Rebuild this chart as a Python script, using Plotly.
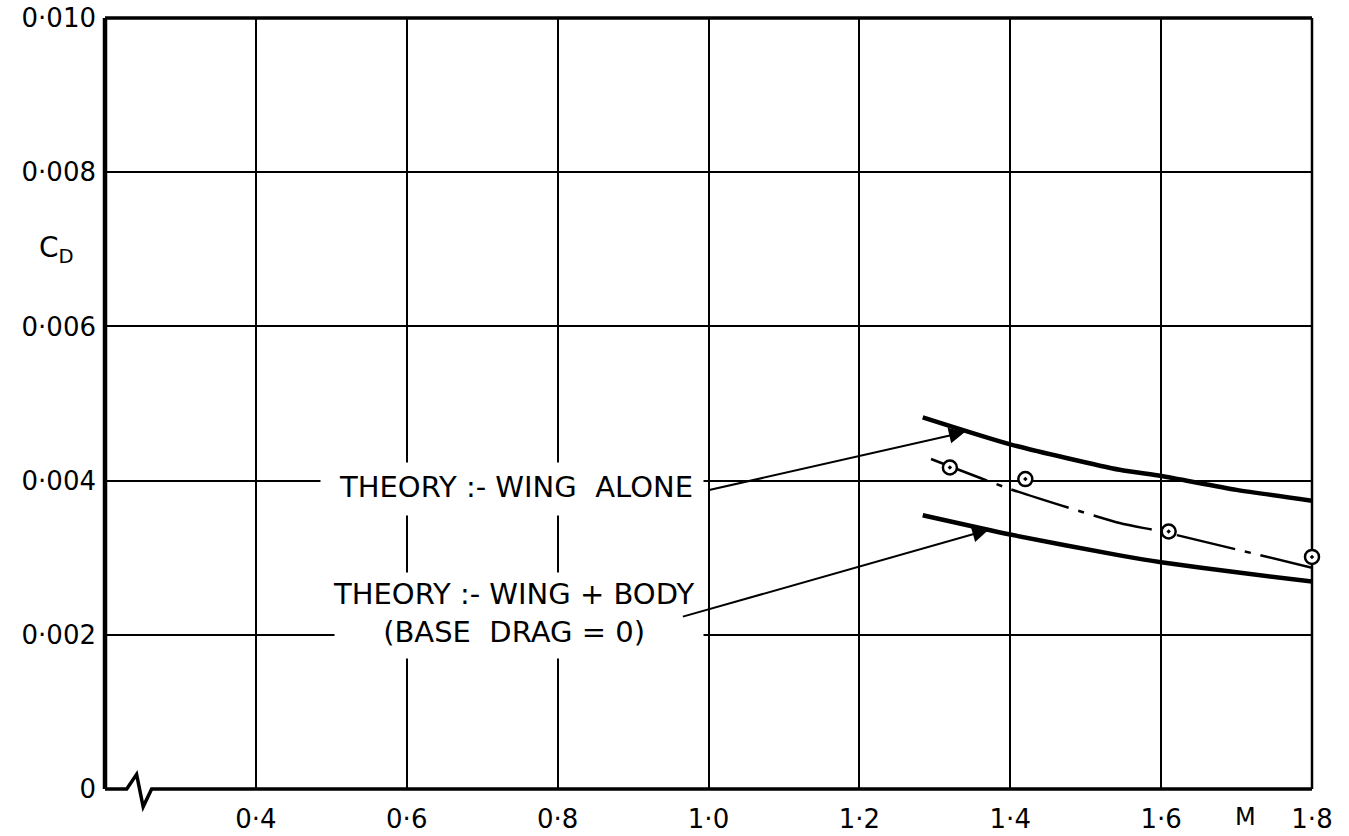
import plotly.graph_objects as go

# ---- data ----
wing_alone_M = [1.284, 1.40, 1.545, 1.60, 1.70, 1.80]
wing_alone_CD = [0.00482, 0.00447, 0.00414, 0.00406, 0.00388, 0.00374]

wing_body_M = [1.284, 1.40, 1.545, 1.60, 1.70, 1.80]
wing_body_CD = [0.00355, 0.00330, 0.00303, 0.00294, 0.00281, 0.00269]

exp_line_M = [1.295, 1.40, 1.545, 1.60, 1.80]
exp_line_CD = [0.00428, 0.00389, 0.00345, 0.00334, 0.00287]

exp_pts_M = [1.32, 1.42, 1.61, 1.80]
exp_pts_CD = [0.00417, 0.00402, 0.00334, 0.00301]

x_ticks = [0.4, 0.6, 0.8, 1.0, 1.2, 1.4, 1.6, 1.8]
x_labels = ["0·4", "0·6", "0·8", "1·0", "1·2", "1·4", "1·6", "1·8"]
y_ticks = [0, 0.002, 0.004, 0.006, 0.008, 0.010]
y_labels = ["0", "0·002", "0·004", "0·006", "0·008", "0·010"]

FONT = "DejaVu Sans"
TXT = 29

fig = go.Figure()
fig.add_trace(go.Scatter(x=wing_alone_M, y=wing_alone_CD, mode="lines",
                         line=dict(color="black", width=4.5, shape="spline", smoothing=0.6),
                         showlegend=False, hoverinfo="skip"))
fig.add_trace(go.Scatter(x=wing_body_M, y=wing_body_CD, mode="lines",
                         line=dict(color="black", width=4.5, shape="spline", smoothing=0.6),
                         showlegend=False, hoverinfo="skip"))
fig.add_trace(go.Scatter(x=exp_line_M, y=exp_line_CD, mode="lines",
                         line=dict(color="black", width=2.5, shape="spline", smoothing=0.6,
                                   dash="60px,10px,6px,10px"),
                         showlegend=False, hoverinfo="skip"))
fig.add_trace(go.Scatter(x=exp_pts_M, y=exp_pts_CD, mode="markers", cliponaxis=False,
                         marker=dict(symbol="circle-dot", size=14, color="white",
                                     line=dict(color="black", width=2.5)),
                         showlegend=False, hoverinfo="skip"))

annotations = [
    # white boxes behind the labels (break the grid lines as in the reference)
    dict(x=0.739, y=0.00389, xref="x", yref="y", showarrow=False, text=" ",
         width=382, height=52, bgcolor="white", borderpad=0),
    dict(x=0.749, y=0.00225, xref="x", yref="y", showarrow=False, text=" ",
         width=368, height=85, bgcolor="white", borderpad=0),
    # labels
    dict(x=0.745, y=0.00392, xref="x", yref="y", showarrow=False,
         text="THEORY :- WING  ALONE", font=dict(family=FONT, size=TXT, color="black")),
    dict(x=0.742, y=0.00228, xref="x", yref="y", showarrow=False,
         text="THEORY :- WING + BODY<br>(BASE  DRAG = 0)",
         font=dict(family=FONT, size=TXT, color="black")),
    # arrows
    dict(x=1.340, y=0.00463, ax=0.9975, ay=0.00387, xref="x", yref="y",
         axref="x", ayref="y", text="", showarrow=True, arrowhead=2,
         arrowsize=1.6, arrowwidth=2, arrowcolor="black"),
    dict(x=1.371, y=0.00336, ax=0.964, ay=0.00223, xref="x", yref="y",
         axref="x", ayref="y", text="", showarrow=True, arrowhead=2,
         arrowsize=1.6, arrowwidth=2, arrowcolor="black"),
    dict(x=-0.040, y=0.70, xref="paper", yref="paper", showarrow=False,
         xanchor="center", yanchor="middle",
         text="C<sub>D</sub>", font=dict(family=FONT, size=28, color="black")),
    dict(x=0.945, y=-0.036, xref="paper", yref="paper", showarrow=False,
         xanchor="center", yanchor="middle",
         text="M", font=dict(family=FONT, size=24, color="black")),
]

# frame (with axis-break zigzag on bottom edge)
break_x = [0.2, 0.2288, 0.2419, 0.2506, 0.2618, 1.8]
break_y = [0, 0, 0.019, -0.023, 0, 0]
path = "M " + " L ".join(f"{a},{b}" for a, b in zip(break_x, break_y))
shapes = [
    dict(type="path", path=path, xref="x", yref="paper",
         line=dict(color="black", width=3.5), layer="below"),
    dict(type="line", x0=0, x1=0, y0=0, y1=1, xref="paper", yref="paper",
         line=dict(color="black", width=4.5), layer="below"),
    dict(type="line", x0=0, x1=1, y0=1, y1=1, xref="paper", yref="paper",
         line=dict(color="black", width=3.5), layer="below"),
    dict(type="line", x0=1, x1=1, y0=0, y1=1, xref="paper", yref="paper",
         line=dict(color="black", width=2.5), layer="below"),
]

fig.update_layout(
    width=1349, height=836,
    margin=dict(l=105, r=37, t=18, b=47),
    paper_bgcolor="white", plot_bgcolor="white",
    showlegend=False,
    annotations=annotations, shapes=shapes,
    font=dict(family=FONT, size=24, color="black"),
    xaxis=dict(range=[0.2, 1.8], tickvals=x_ticks, ticktext=x_labels,
               showgrid=True, gridcolor="black", gridwidth=2, zeroline=False,
               showline=False, ticks="", ticklabelstandoff=12, automargin=False,
               tickfont=dict(family=FONT, size=26, color="black")),
    yaxis=dict(range=[0, 0.010], tickvals=y_ticks, ticktext=y_labels,
               showgrid=True, gridcolor="black", gridwidth=2, zeroline=False,
               showline=False, ticks="", ticklabelstandoff=8, automargin=False,
               tickfont=dict(family=FONT, size=26, color="black")),
)

fig.write_html("out.html")
